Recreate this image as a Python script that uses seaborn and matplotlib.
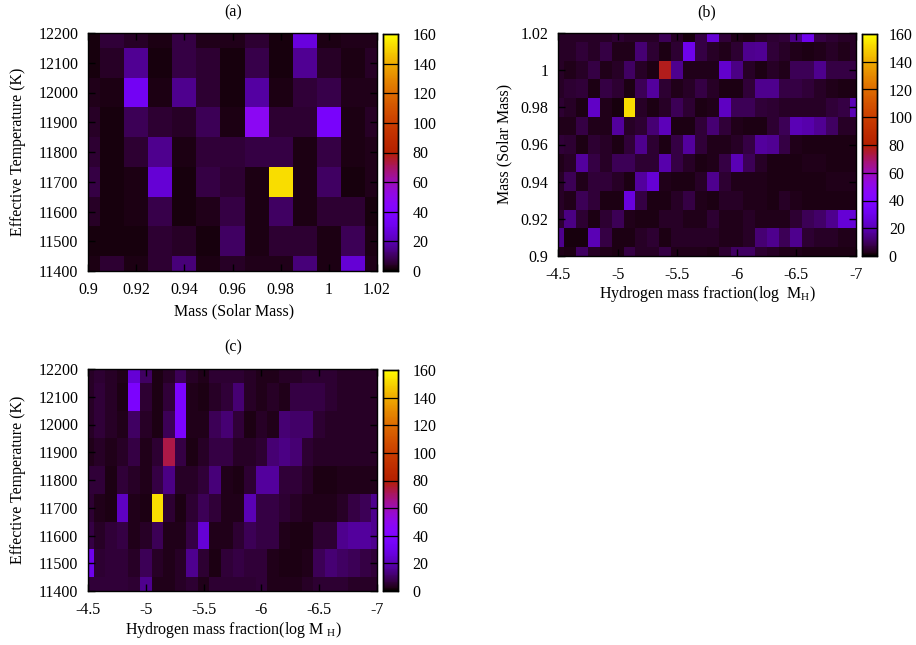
import numpy as np
import pandas as pd
import matplotlib
matplotlib.use("Agg")
import matplotlib.pyplot as plt
import seaborn as sns

# ---------------- data ----------------
mass_vals = [0.90, 0.91, 0.92, 0.93, 0.94, 0.95, 0.96, 0.97, 0.98, 0.99, 1.00, 1.01, 1.02]
teff_vals = [12200, 12100, 12000, 11900, 11800, 11700, 11600, 11500, 11400]
logmh_vals = [-4.5, -4.6, -4.7, -4.8, -4.9, -5.0, -5.1, -5.2, -5.3, -5.4, -5.5, -5.6, -5.7,
              -5.8, -5.9, -6.0, -6.1, -6.2, -6.3, -6.4, -6.5, -6.6, -6.7, -6.8, -6.9, -7.0]
mass_rows = [1.02, 1.01, 1.00, 0.99, 0.98, 0.97, 0.96, 0.95, 0.94, 0.93, 0.92, 0.91, 0.90]

# (a) Teff (rows, top->bottom) x Mass (cols)
a_12200 = [1.5, 6, 4, 2, 7, 3, 3, 5, 1.5, 27, 2, 3, 3]
a_12100 = [1.5, 4, 16, 1.5, 7, 5, 1.5, 8, 1.5, 16, 4, 2, 4]
a_12000 = [3, 2, 33, 2, 15, 5, 1.5, 18, 2, 6, 8, 3, 3]
a_11900 = [4, 1.5, 9, 5, 4, 9, 2, 48, 5, 5, 36, 2, 4]
a_11800 = [5, 1.5, 5, 15, 2, 6, 6, 7, 7, 2, 7, 2, 3]
a_11700 = [7, 1.5, 2, 25, 1.5, 7, 5, 2, 152, 2, 10, 1.5, 3]
a_11600 = [4, 1.5, 2, 8, 1.5, 3, 7, 2, 10, 2, 5, 5, 1.5]
a_11500 = [1.5, 1.5, 1.5, 5, 4, 1.5, 10, 2, 5, 5, 2, 9, 2]
a_11400 = [2, 5, 2, 5, 13, 2, 4, 3, 3, 13, 2, 25, 3]

# (b) Mass (rows, top->bottom) x log MH (cols)
b_102 = [4, 4, 4, 4, 4, 5, 4, 4, 4, 9, 4, 1.5, 7, 25, 6, 3, 2, 4, 5, 6, 14, 30, 7, 5, 4, 4]
b_101 = [4, 4, 6, 4, 7, 3, 3, 12, 5, 2, 5, 30, 7, 4, 3, 5, 15, 16, 6, 4, 3, 2, 3, 4, 3, 4]
b_100 = [4, 3, 4, 7, 3, 4, 10, 4, 2, 77, 15, 3, 3, 3, 24, 14, 4, 2, 4, 3, 9, 9, 15, 7, 7, 7]
b_099 = [4, 5, 6, 2, 7, 5, 2, 9, 17, 5, 3, 4, 7, 4, 2, 2, 6, 15, 15, 7, 7, 6, 4, 3, 2, 2]
b_098 = [5, 4, 2, 23, 3, 1.5, 152, 4, 2, 4, 9, 5, 2, 3, 22, 9, 9, 6, 5, 4, 4, 4, 4, 6, 7, 20]
b_097 = [3, 3, 7, 3, 3, 17, 4, 5, 12, 21, 2, 2, 6, 12, 6, 3, 2, 2, 5, 9, 20, 19, 16, 10, 4, 4]
b_096 = [6, 5, 2, 5, 4, 2, 6, 15, 5, 2, 7, 17, 6, 3, 3, 4, 7, 17, 16, 7, 3, 2, 2, 2, 2, 2]
b_095 = [3, 4, 17, 7, 4, 9, 9, 5, 5, 19, 7, 4, 2, 3, 7, 20, 9, 4, 2, 2, 2, 3, 3, 2, 2, 2]
b_094 = [4, 9, 3, 6, 6, 4, 2, 17, 25, 3, 2, 2, 4, 15, 5, 3, 3, 3, 2, 2, 2, 2, 2, 3, 3, 3]
b_093 = [4, 3, 9, 6, 2, 2, 27, 7, 2, 2, 4, 7, 3, 2, 4, 4, 3, 3, 2, 4, 3, 2, 2, 2, 2, 2]
b_092 = [5, 14, 5, 2, 5, 9, 3, 2, 2, 4, 4, 3, 3, 5, 3, 3, 4, 3, 3, 3, 5, 9, 11, 15, 25, 25]
b_091 = [15, 1.5, 1.5, 20, 7, 2, 2, 4, 5, 2, 4, 4, 4, 4, 3, 3, 4, 12, 15, 9, 15, 5, 4, 4, 3, 3]
b_090 = [3, 2, 10, 4, 3, 2, 7, 4, 4, 7, 3, 3, 3, 2, 5, 10, 10, 5, 4, 3, 3, 2, 2, 2, 2, 2]

# (c) Teff (rows, top->bottom) x log MH (cols)
c_12200 = [4, 5, 4, 3, 25, 10, 2, 4, 9, 4, 3, 5, 5, 5, 4, 3, 3, 4, 4, 5, 5, 5, 4, 4, 4, 4]
c_12100 = [4, 6, 4, 2, 38, 5, 2, 6, 38, 3, 2, 4, 6, 12, 4, 3, 4, 3, 7, 7, 7, 5, 4, 4, 4, 4]
c_12000 = [4, 6, 4, 3, 10, 4, 2, 9, 38, 3, 3, 9, 12, 6, 2, 4, 3, 12, 11, 11, 5, 4, 4, 4, 4, 4]
c_11900 = [3, 4, 3, 4, 7, 3, 5, 73, 7, 2, 4, 7, 7, 4, 4, 5, 12, 14, 12, 5, 4, 4, 4, 4, 4, 4]
c_11800 = [6, 6, 2, 6, 4, 3, 7, 14, 4, 4, 6, 13, 3, 2, 5, 17, 17, 6, 6, 4, 2, 2, 3, 3, 3, 3]
c_11700 = [5, 3, 2, 22, 3, 2, 152, 5, 2, 5, 9, 6, 3, 3, 20, 7, 7, 5, 4, 3, 3, 3, 4, 7, 9, 15]
c_11600 = [7, 4, 6, 7, 3, 4, 9, 3, 3, 7, 25, 3, 3, 5, 9, 7, 7, 3, 2, 2, 5, 5, 15, 17, 17, 15]
c_11500 = [30, 5, 6, 6, 4, 9, 4, 3, 4, 15, 5, 2, 6, 7, 6, 6, 3, 2, 2, 3, 9, 12, 10, 9, 7, 6]
c_11400 = [6, 6, 6, 6, 5, 15, 3, 3, 4, 5, 3, 5, 5, 5, 5, 6, 3, 3, 3, 4, 5, 5, 5, 4, 4, 4]

mass_ticks = [0.90, 0.92, 0.94, 0.96, 0.98, 1.00, 1.02]
mass_tick_labels = ["0.9", "0.92", "0.94", "0.96", "0.98", "1", "1.02"]
teff_ticks = [11400, 11500, 11600, 11700, 11800, 11900, 12000, 12100, 12200]
teff_tick_labels = [str(t) for t in teff_ticks]
logmh_ticks = [-4.5, -5.0, -5.5, -6.0, -6.5, -7.0]
logmh_tick_labels = ["-4.5", "-5", "-5.5", "-6", "-6.5", "-7"]
cbar_ticks = [0, 20, 40, 60, 80, 100, 120, 140, 160]

# ---------------- style ----------------
plt.rcParams['font.family'] = ['Liberation Serif', 'DejaVu Serif']
plt.rcParams['mathtext.fontset'] = 'custom'
plt.rcParams['mathtext.rm'] = 'Liberation Serif'
plt.rcParams['mathtext.it'] = 'Liberation Serif:italic'
FS = 11.5

W, H = 916, 645
fig = plt.figure(figsize=(W / 100, H / 100), dpi=100)


def box(x0, x1, y0, y1):
    return [x0 / W, 1 - y1 / H, (x1 - x0) / W, (y1 - y0) / H]


def idx(vals, v):
    return int(np.argmin(np.abs(np.asarray(vals, float) - v))) + 0.5


def panel(rows, yvals, xvals, xt, xtl, yt, ytl, axb, cb, cpad, title, xlabel, ylabel,
          title_xy, xlabel_xy, ylabel_xy):
    df = pd.DataFrame(rows, index=yvals, columns=xvals)
    ax = fig.add_axes(box(*axb))
    cax = fig.add_axes(box(*cb))
    sns.heatmap(df, ax=ax, cmap="gnuplot", vmin=0, vmax=160, cbar_ax=cax,
                xticklabels=False, yticklabels=False, linewidths=0)
    nr, nc = df.shape
    ax.set_xlim(0.5, nc - 0.5)
    ax.set_ylim(nr - 0.5, 0.5)
    ax.set_xticks([idx(xvals, v) for v in xt])
    ax.set_xticklabels(xtl, fontsize=FS)
    ax.set_yticks([idx(yvals, v) for v in yt])
    ax.set_yticklabels(ytl, fontsize=FS, rotation=0)
    ax.set_xlabel("")
    ax.set_ylabel("")
    ax.tick_params(direction="in", length=5, width=1, top=True, right=True,
                   labeltop=False, labelright=False, color="black")
    ax.tick_params(axis="y", pad=7)
    ax.tick_params(axis="x", pad=8)
    for sp in ax.spines.values():
        sp.set_visible(True)
        sp.set_linewidth(1.0)
        sp.set_color("black")
    # colorbar
    cax.set_yticks(cbar_ticks)
    cax.set_yticklabels([str(t) for t in cbar_ticks], fontsize=FS)
    cax.tick_params(length=0, pad=cpad)
    cax.hlines(cbar_ticks[1:-1], 0, 1, transform=cax.get_yaxis_transform(),
               colors="black", linewidth=0.9)
    for sp in cax.spines.values():
        sp.set_visible(True)
        sp.set_linewidth(1.0)
        sp.set_color("black")
    cbar = ax.collections[0].colorbar
    cbar.outline.set_linewidth(1.0)
    cbar.outline.set_edgecolor("black")
    fig.text(title_xy[0] / W, 1 - title_xy[1] / H, title, ha="center", va="center", fontsize=FS)
    fig.text(xlabel_xy[0] / W, 1 - xlabel_xy[1] / H, xlabel, ha="center", va="center", fontsize=FS)
    fig.text(ylabel_xy[0] / W, 1 - ylabel_xy[1] / H, ylabel, ha="center", va="center",
             rotation=90, fontsize=FS)
    return ax


rows_a = [a_12200, a_12100, a_12000, a_11900, a_11800, a_11700, a_11600, a_11500, a_11400]
rows_b = [b_102, b_101, b_100, b_099, b_098, b_097, b_096, b_095, b_094, b_093, b_092, b_091, b_090]
rows_c = [c_12200, c_12100, c_12000, c_11900, c_11800, c_11700, c_11600, c_11500, c_11400]

panel(rows_a, teff_vals, mass_vals, mass_ticks, mass_tick_labels, teff_ticks, teff_tick_labels,
      (88, 377, 33, 271), (383, 398, 34, 271), 10.5, "(a)", "Mass (Solar Mass)",
      "Effective Temperature (K)", (233, 12), (234, 311), (18, 152))

panel(rows_b, mass_rows, logmh_vals, logmh_ticks, logmh_tick_labels, mass_ticks, mass_tick_labels,
      (558, 856, 33, 256), (862, 877, 34, 256), 8.5, "(b)",
      r"Hydrogen mass fraction(log  M$_{\rm H}$)", "Mass (Solar Mass)",
      (707, 12), (707, 294), (504, 144))

panel(rows_c, teff_vals, logmh_vals, logmh_ticks, logmh_tick_labels, teff_ticks, teff_tick_labels,
      (88, 377, 369, 591), (383, 398, 370, 591), 10.5, "(c)",
      r"Hydrogen mass fraction(log M $_{\rm H}$)", "Effective Temperature (K)",
      (233, 347), (233, 630), (18, 480))

fig.savefig("out.png", dpi=100)
